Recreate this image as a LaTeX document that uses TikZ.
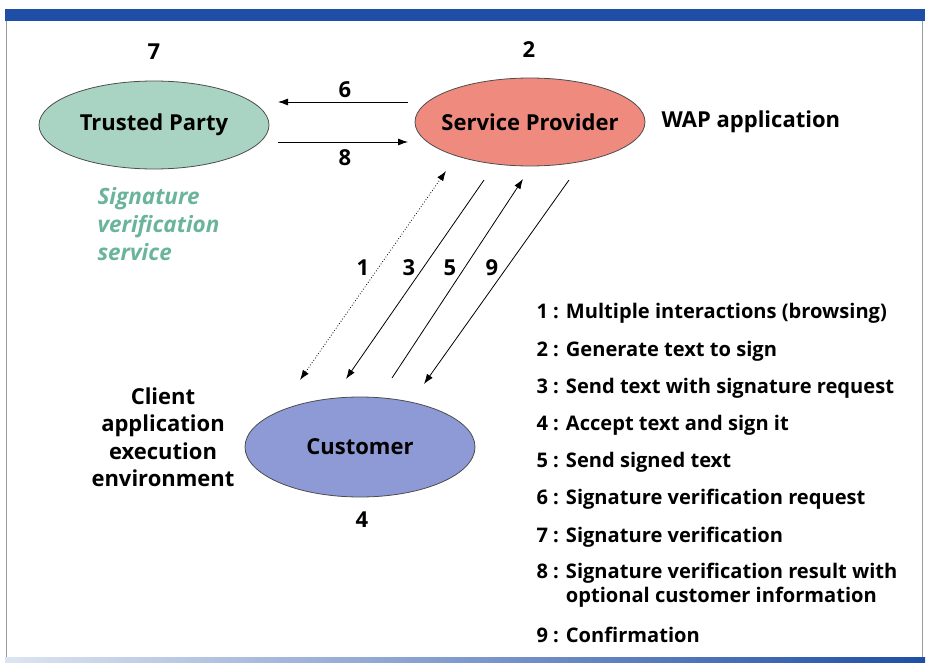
\documentclass[tikz,border=0pt]{standalone}
\usepackage{fontspec}
\setmainfont{Open Sans}
\usetikzlibrary{arrows.meta,shapes.geometric}
\definecolor{bandblue}{HTML}{1F4EA6}
\definecolor{tpfill}{HTML}{A9D4C4}
\definecolor{spfill}{HTML}{EF8A7F}
\definecolor{cufill}{HTML}{8E9AD6}
\definecolor{sigcol}{HTML}{6AB49C}
\definecolor{framegray}{HTML}{9A9A9A}
\tikzset{
  party/.style={ellipse, draw=black!70, line width=0.8pt, inner sep=0pt, minimum width=230pt, minimum height=88pt},
  lbl/.style={font=\fontsize{22}{26}\selectfont\bfseries},
  legend/.style={font=\fontsize{20.1}{24}\selectfont\bfseries, anchor=west},
  arr/.style={line width=0.8pt, -{Latex[length=10pt,width=7pt]}},
}
\begin{document}
\begin{tikzpicture}[x=1pt,y=-1pt]
\useasboundingbox (0,0) rectangle (928,663);
% frame
\fill[bandblue] (5,9) rectangle (925,21);
\draw[framegray, line width=0.8pt] (6,21) -- (6,659);
\draw[framegray, line width=0.8pt] (922,21) -- (922,659);
\shade[left color=bandblue!15, right color=bandblue] (5,657) rectangle (925,662);
% parties
\node[party, fill=tpfill, label={[lbl]center:Trusted Party}] (tp) at (154,125) {};
\node[party, fill=spfill, label={[lbl]center:Service Provider}] (sp) at (530,122) {};
\node[party, fill=cufill, minimum height=100pt, label={[lbl]center:Customer}] (cu) at (360,447) {};
\node[lbl] (n7) at (154,52) {7};
\node[lbl] (n2) at (529,50) {2};
\node[lbl] (n4) at (362,520) {4};
\node[lbl, anchor=west] (wap) at (658,122) {WAP application};
\node[lbl, font=\fontsize{22.5}{28}\selectfont\bfseries\itshape, text=sigcol, align=left, anchor=north west] (sig) at (94,184) {Signature\\verification\\service};
\node[lbl, font=\fontsize{22}{27.5}\selectfont\bfseries, align=center] (cli) at (163,437) {Client\\application\\execution\\environment};
% arrow endpoints
\coordinate (a6s) at (408,102); \coordinate (a6e) at (278,102);
\coordinate (a8s) at (278,142); \coordinate (a8e) at (408,142);
\coordinate (a1s) at (300,380); \coordinate (a1e) at (446,171);
\coordinate (a3s) at (484,180); \coordinate (a3e) at (346,379);
\coordinate (a5s) at (392,378); \coordinate (a5e) at (523,179);
\coordinate (a9s) at (569,180); \coordinate (a9e) at (424,384);
\draw[arr] (a6s) -- (a6e);
\draw[arr] (a8s) -- (a8e);
\draw[line width=0.8pt, dotted, {Latex[length=10pt,width=7pt]}-{Latex[length=10pt,width=7pt]}] (a1s) -- (a1e);
\draw[arr] (a3s) -- (a3e);
\draw[arr] (a5s) -- (a5e);
\draw[arr] (a9s) -- (a9e);
\node[lbl] (l6) at (345,90) {6};
\node[lbl] (l8) at (345,158) {8};
\node[lbl] (l1) at (363,268) {1};
\node[lbl] (l3) at (409,268) {3};
\node[lbl] (l5) at (450,268) {5};
\node[lbl] (l9) at (492,268) {9};
% legend
\node[legend] (g1) at (533,313) {1 : Multiple interactions (browsing)};
\node[legend] (g2) at (533,351) {2 : Generate text to sign};
\node[legend] (g3) at (533,388) {3 : Send text with signature request};
\node[legend] (g4) at (533,425) {4 : Accept text and sign it};
\node[legend] (g5) at (533,462) {5 : Send signed text};
\node[legend] (g6) at (533,499) {6 : Signature verification request};
\node[legend] (g7) at (533,537) {7 : Signature verification};
\node[legend, align=left, anchor=north west] (g8) at (533,560) {8 : Signature verification result with\\\phantom{8 : }optional customer information};
\node[legend] (g9) at (533,635) {9 : Confirmation};
\end{tikzpicture}
\end{document}
